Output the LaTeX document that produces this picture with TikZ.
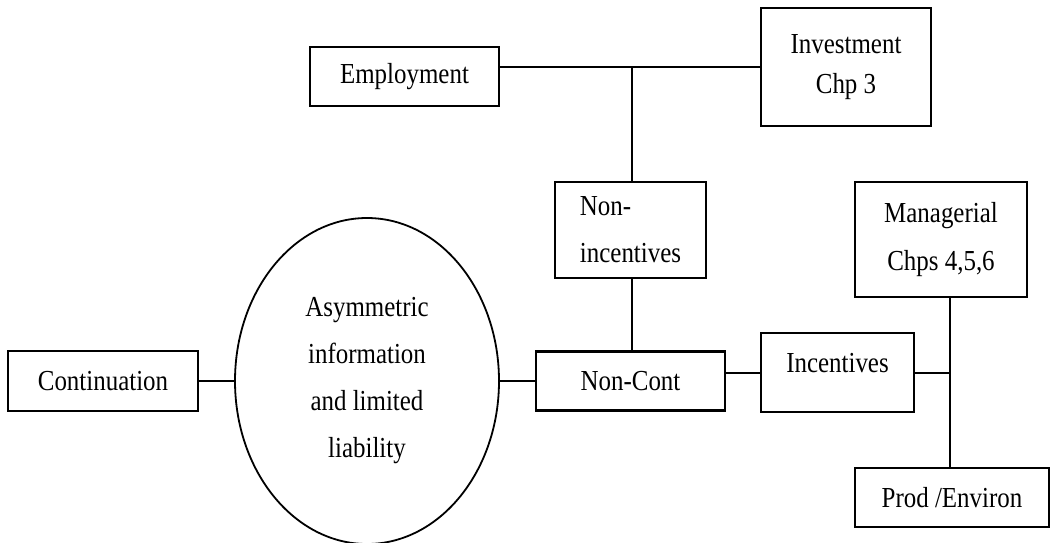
\documentclass[tikz,border=0pt]{standalone}
\usepackage{fontspec}
\setmainfont[FakeStretch=0.86]{Liberation Serif}
\usetikzlibrary{shapes.geometric,calc}
\begin{document}
\begin{tikzpicture}[x=1pt,y=-1pt,
  every node/.style={font=\fontsize{29}{46}\selectfont},
  box/.style={draw,line width=2.2pt,inner sep=0pt,align=center},
  conn/.style={line width=2.2pt}]
\useasboundingbox (0,0) rectangle (1054,543);
\node[box,minimum width=189pt,minimum height=59pt] (emp) at (404.5,76.5) {Employment};
\node[box,minimum width=170pt,minimum height=118pt,font=\fontsize{29}{40}\selectfont] (inv) at (846,67) {Investment\\Chp 3};
\node[box,minimum width=151pt,minimum height=96pt,align=left,font=\fontsize{29}{47}\selectfont] (noninc) at (630.5,230) {Non-\\incentives};
\node[box,minimum width=172pt,minimum height=115pt,font=\fontsize{29}{48}\selectfont] (man) at (941,239.5) {Managerial\\Chps 4,5,6};
\node[box,minimum width=190pt,minimum height=60pt] (cont) at (103,381) {Continuation};
\node[draw,ellipse,line width=1.8pt,minimum width=264pt,minimum height=326pt,inner sep=0pt,align=center,font=\fontsize{29}{47}\selectfont] (asym) at (367,381) {Asymmetric\\information\\and limited\\liability};
\node[box,minimum width=189pt,minimum height=59pt] (noncont) at (630.5,381) {Non-Cont};
\node[box,minimum width=153pt,minimum height=79pt,text depth=20pt] (inc) at (837.5,372.5) {Incentives};
\node[box,minimum width=194pt,minimum height=59pt] (prod) at (952,497.5) {Prod /Environ};
\coordinate (j1) at (632,67);
\coordinate (j2) at (950,373);
\draw[conn] (emp.east |- j1) -- (inv.west |- j1);
\draw[conn] (j1) -- (j1 |- noninc.north);
\draw[conn] (j1 |- noninc.south) -- (j1 |- noncont.north);
\draw[conn] (cont.east) -- (asym.west);
\draw[conn] (asym.east) -- (noncont.west);
\draw[conn] (noncont.east |- j2) -- (inc.west |- j2);
\draw[conn] (inc.east |- j2) -- (j2);
\draw[conn] (j2 |- man.south) -- (j2 |- prod.north);
\end{tikzpicture}
\end{document}
